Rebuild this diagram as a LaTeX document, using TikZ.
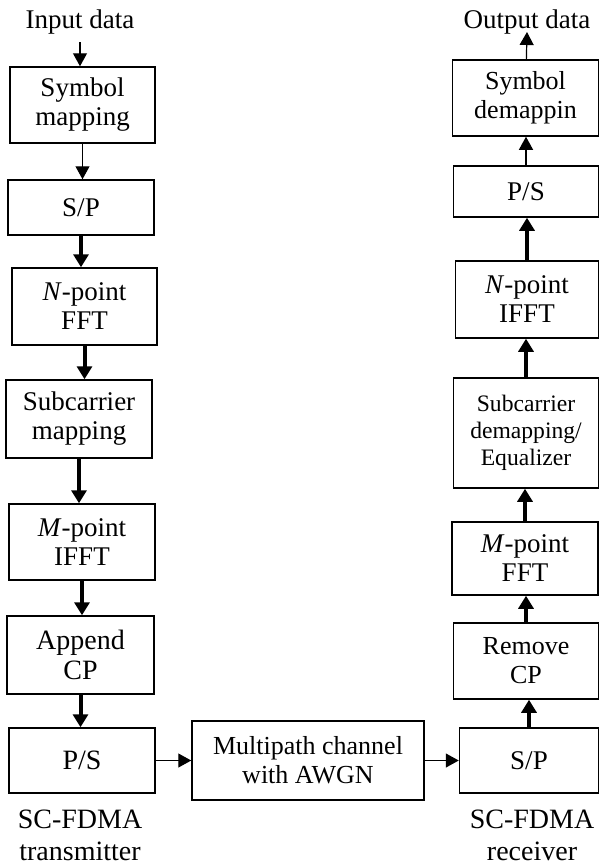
\documentclass[tikz,border=0pt]{standalone}
\usepackage{fontspec}
\setmainfont{Liberation Serif}
\usetikzlibrary{arrows.meta}

\begin{document}
\begin{tikzpicture}[x=0.5pt,y=-0.5pt,
	blk/.style={draw, line width=0.75pt, align=center, inner sep=0pt,
		font=\fontsize{13.5}{14.5}\selectfont},
	lbl/.style={align=center, inner sep=0pt, font=\fontsize{13.5}{14.5}\selectfont},
	thinarr/.style={line width=0.6pt, -{Triangle[length=6.5pt,width=7pt]}},
	thickarr/.style={line width=2pt, -{Triangle[length=6.5pt,width=7.5pt]}}]
	\useasboundingbox (0,0) rectangle (600,864);
	% transmitter
	\node[lbl] (in) at (80,22) {Input data};
	\coordinate (inpt) at (80,42);
	\node[blk, minimum width=72.5pt, minimum height=38pt] (sm) at (82.5,105) {Symbol\\mapping};
	\node[blk, minimum width=73pt, minimum height=27.5pt] (sp1) at (81,207.5) {S/P};
	\node[blk, minimum width=72.5pt, minimum height=38.5pt] (nfft) at (84.5,306.5) {\textit{N}-point\\FFT};
	\node[blk, minimum width=73pt, minimum height=39pt] (scm) at (79,419) {Subcarrier\\mapping};
	\node[blk, minimum width=73pt, minimum height=38pt] (mifft) at (82,542) {\textit{M}-point\\IFFT};
	\node[blk, minimum width=73.5pt, minimum height=39pt, font=\fontsize{14}{15}\selectfont] (acp) at (80.5,655) {Append\\CP};
	\node[blk, minimum width=73pt, minimum height=32.5pt, font=\fontsize{14}{15}\selectfont] (ps1) at (82,760.5) {P/S};
	\node[lbl, font=\fontsize{14}{16}\selectfont] (tx) at (80,835) {SC-FDMA\\transmitter};
	% channel
	\node[blk, minimum width=116pt, minimum height=39.5pt, font=\fontsize{13}{14.5}\selectfont] (chan) at (308,760.5) {Multipath channel\\with AWGN};
	% receiver
	\node[blk, minimum width=69.5pt, minimum height=32.5pt] (sp2) at (529,760.5) {S/P};
	\node[blk, minimum width=72.5pt, minimum height=38pt, font=\fontsize{13}{14.5}\selectfont] (rcp) at (526,661) {Remove\\CP};
	\node[blk, minimum width=73pt, minimum height=36.5pt] (mfft) at (525,558.5) {\textit{M}-point\\FFT};
	\node[blk, minimum width=72.5pt, minimum height=55pt, font=\fontsize{11.8}{13.5}\selectfont] (scd) at (526,433) {Subcarrier\\demapping/\\Equalizer};
	\node[blk, minimum width=71.5pt, minimum height=38.5pt] (nifft) at (527,299.5) {\textit{N}-point\\IFFT};
	\node[blk, minimum width=72.5pt, minimum height=25.5pt] (ps2) at (526,191.5) {P/S};
	\node[blk, minimum width=73pt, minimum height=38pt, font=\fontsize{13}{14.5}\selectfont] (sdm) at (525.5,98) {Symbol\\demappin};
	\coordinate (outpt) at (527,32);
	\node[lbl] (out) at (527,22) {Output data};
	\node[lbl, font=\fontsize{14}{16}\selectfont] (rx) at (532,835) {SC-FDMA\\receiver};
	% connections
	\draw[thinarr] (inpt) -- (inpt |- sm.north);
	\draw[thinarr] (sm) -- (sm |- sp1.north);
	\draw[thickarr] (sp1) -- (sp1 |- nfft.north);
	\draw[thickarr] (nfft) -- (nfft |- scm.north);
	\draw[thickarr] (scm) -- (scm |- mifft.north);
	\draw[thickarr] (mifft) -- (mifft |- acp.north);
	\draw[thickarr] (acp) -- (acp |- ps1.north);
	\draw[thinarr] (ps1) -- (chan);
	\draw[thinarr] (chan) -- (sp2);
	\draw[thickarr] (sp2) -- (sp2 |- rcp.south);
	\draw[thickarr] (rcp) -- (rcp |- mfft.south);
	\draw[thickarr] (mfft) -- (mfft |- scd.south);
	\draw[thickarr] (scd) -- (scd |- nifft.south);
	\draw[thickarr] (nifft) -- (nifft |- ps2.south);
	\draw[thinarr] (ps2) -- (ps2 |- sdm.south);
	\draw[thinarr] (sdm) -- (outpt);
\end{tikzpicture}
\end{document}
